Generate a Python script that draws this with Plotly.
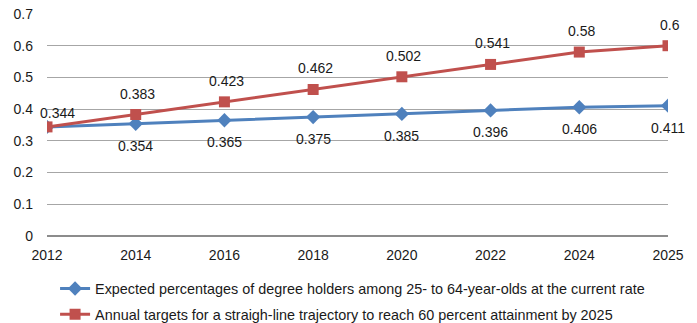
import plotly.graph_objects as go

years = ["2012", "2014", "2016", "2018", "2020", "2022", "2024", "2025"]
current_rate = [0.344, 0.354, 0.365, 0.375, 0.385, 0.396, 0.406, 0.411]
targets = [0.344, 0.383, 0.423, 0.462, 0.502, 0.541, 0.58, 0.60]
y_ticks = [0, 0.1, 0.2, 0.3, 0.4, 0.5, 0.6, 0.7]
y_tick_text = ["0", "0.1", "0.2", "0.3", "0.4", "0.5", "0.6", "0.7"]

blue = "#4F81BD"
red = "#C0504D"
font_family = "Liberation Sans, Arial, sans-serif"
text_color = "#1a1a1a"

xs = list(range(len(years)))

fig = go.Figure()
fig.add_trace(go.Scatter(
    x=xs, y=current_rate, mode="lines+markers",
    name="Expected percentages of degree holders among 25- to 64-year-olds at the current rate",
    legendgroup="a",
    line=dict(color=blue, width=3),
    marker=dict(symbol="diamond", size=11, color=blue),
))
fig.add_trace(go.Scatter(
    x=xs, y=targets, mode="lines+markers",
    name="Annual targets for a straigh-line trajectory to reach 60 percent attainment by 2025",
    legendgroup="b",
    line=dict(color=red, width=3),
    marker=dict(symbol="square", size=11, color=red),
))

# value labels: targets above, current-rate values below
for i, v in enumerate(targets):
    fig.add_annotation(x=xs[i], y=v, text=f"{v:g}", showarrow=False,
                       yshift=14 if i == 0 else 21, xshift=10 if i == 0 else 2,
                       font=dict(size=14, color=text_color, family=font_family))
for i, v in enumerate(current_rate):
    if i == 0:
        continue
    fig.add_annotation(x=xs[i], y=v, text=f"{v:g}", showarrow=False,
                       yshift=-22, xshift=0,
                       font=dict(size=14, color=text_color, family=font_family))

fig.update_layout(
    width=697, height=323,
    margin=dict(l=47, r=29, t=14, b=87, autoexpand=False),
    paper_bgcolor="white", plot_bgcolor="white",
    font=dict(family=font_family, size=14, color=text_color),
    showlegend=True,
    legend=dict(orientation="v", x=0.013, y=-0.165, xanchor="left", yanchor="top",
                font=dict(size=14.4, family=font_family, color=text_color),
                traceorder="grouped", tracegroupgap=4, itemwidth=30,
                bgcolor="rgba(0,0,0,0)"),
)
fig.update_xaxes(
    range=[0, 7], tickmode="array", tickvals=xs, ticktext=years,
    showgrid=False, zeroline=False, showline=False, ticks="",
    ticklabelstandoff=9,
    tickfont=dict(size=14), fixedrange=True,
)
fig.update_yaxes(
    range=[0, 0.7], tickmode="array", tickvals=y_ticks, ticktext=y_tick_text,
    showgrid=True, gridcolor="#A6A6A6", gridwidth=1,
    zeroline=True, zerolinecolor="#8C8C8C", zerolinewidth=2,
    showline=False, ticks="", ticklabelstandoff=13,
    tickfont=dict(size=14), fixedrange=True,
)

fig.write_html("out.html")
